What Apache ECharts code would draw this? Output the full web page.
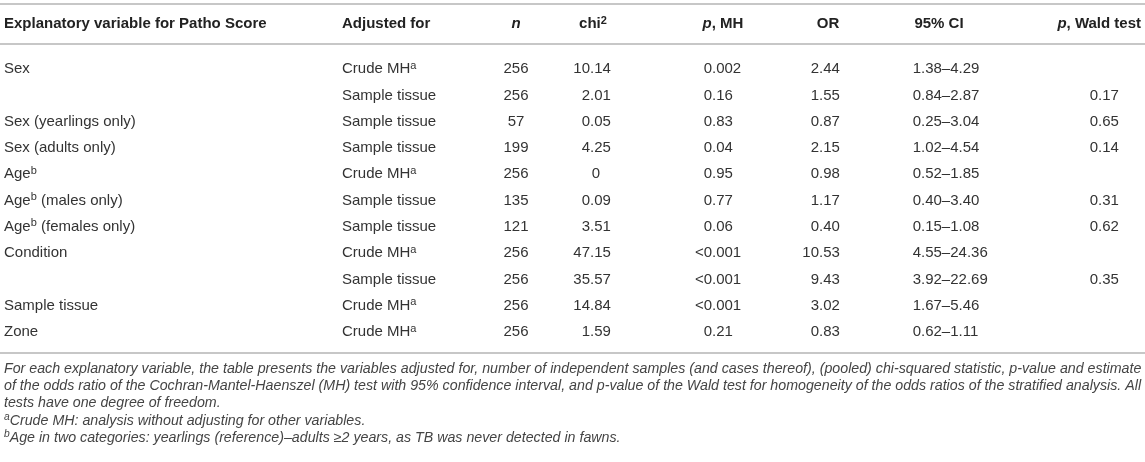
<!DOCTYPE html>
<html lang="en">
  <head>
    <meta charset="UTF-8" />
    <title>Patho Score – Cochran-Mantel-Haenszel tests</title>
    <script src="https://cdn.jsdelivr.net/npm/echarts@6/dist/echarts.min.js"></script>
    <style>
      html,
      body {
        margin: 0;
        padding: 0;
        background: #fff;
      }
      #main {
        width: 1145px;
        height: 462px;
      }
    </style>
  </head>
  <body>
    <div id="main"></div>
    <script>
      // table columns ("^x" marks a superscript)
      const variables = [
        "Sex",
        "",
        "Sex (yearlings only)",
        "Sex (adults only)",
        "Age^b",
        "Age^b (males only)",
        "Age^b (females only)",
        "Condition",
        "",
        "Sample tissue",
        "Zone",
      ];
      const adjustedFor = [
        "Crude MH^a",
        "Sample tissue",
        "Sample tissue",
        "Sample tissue",
        "Crude MH^a",
        "Sample tissue",
        "Sample tissue",
        "Crude MH^a",
        "Sample tissue",
        "Crude MH^a",
        "Crude MH^a",
      ];
      const nValues = [256, 256, 57, 199, 256, 135, 121, 256, 256, 256, 256];
      const chiSquared = ["10.14", "2.01", "0.05", "4.25", "0", "0.09", "3.51", "47.15", "35.57", "14.84", "1.59"];
      const pMH = ["0.002", "0.16", "0.83", "0.04", "0.95", "0.77", "0.06", "<0.001", "<0.001", "<0.001", "0.21"];
      const oddsRatio = ["2.44", "1.55", "0.87", "2.15", "0.98", "1.17", "0.40", "10.53", "9.43", "3.02", "0.83"];
      const ci95 = [
        "1.38–4.29",
        "0.84–2.87",
        "0.25–3.04",
        "1.02–4.54",
        "0.52–1.85",
        "0.40–3.40",
        "0.15–1.08",
        "4.55–24.36",
        "3.92–22.69",
        "1.67–5.46",
        "0.62–1.11",
      ];
      const pWald = ["", "0.17", "0.65", "0.14", "", "0.31", "0.62", "", "0.35", "", ""];

      const headers = [
        "{h|Explanatory variable for Patho Score}",
        "{h|Adjusted for}",
        "{hi|n}",
        "{h|chi}{hs|2}",
        "{hi|p}{h|, MH}",
        "{h|OR}",
        "{h|95% CI}",
        "{hi|p}{h|, Wald test}",
      ];

      const footnotes = [
        "For each explanatory variable, the table presents the variables adjusted for, number of independent samples (and cases thereof), (pooled) chi-squared statistic, p-value and estimate",
        "of the odds ratio of the Cochran-Mantel-Haenszel (MH) test with 95% confidence interval, and p-value of the Wald test for homogeneity of the odds ratios of the stratified analysis. All",
        "tests have one degree of freedom.",
        "^aCrude MH: analysis without adjusting for other variables.",
        "^bAge in two categories: yearlings (reference)–adults ≥2 years, as TB was never detected in fawns.",
      ];

      // layout
      const FONT = "'Liberation Sans', Arial, Helvetica, sans-serif";
      const W = 1145;
      const BODY = "#333";
      const HEAD = "#222";
      const RULE = "#b4b4b4";
      const ROW_TOP = 56;
      const ROW_H = 26.3;
      const ruleY = [4, 44, 353];
      const headerY = 24;
      const headerX = [4, 342, 516, 593, 723, 828, 939, 1141];
      const headerAlign = ["left", "left", "center", "center", "center", "center", "center", "right"];
      const colX = { variable: 4, adjusted: 342, n: 516, chi: 590, pmh: 712, or: 819, ci: 921, wald: 1098 };
      const footY = [369, 386, 403, 421, 438];

      // fit the footnote font so the first line spans the table width
      const ctx = document.createElement("canvas").getContext("2d");
      ctx.font = "italic 13px " + FONT;
      let footSize = (13 * (W - 6)) / ctx.measureText(footnotes[0]).width;
      footSize = Math.max(12, Math.min(15, footSize));

      // "Age^b (males only)" -> rich text tokens
      const toRich = (s, base, sup) =>
        s
          .split(/\^(\w)/)
          .map((part, k) => (part === "" ? "" : `{${k % 2 ? sup : base}|${part}}`))
          .join("");

      const bodyRich = {
        t: { fontSize: 15, fontFamily: FONT, fill: BODY, lineHeight: 18 },
        s: { fontSize: 11, fontFamily: FONT, fill: BODY, lineHeight: 10, verticalAlign: "top" },
      };

      const splitDot = (s) => {
        const k = s.indexOf(".");
        return k < 0 ? [s, ""] : [s.slice(0, k), s.slice(k)];
      };

      const rows = variables.map((_, i) => [0, i]);

      const chartDom = document.getElementById("main");
      const myChart = echarts.init(chartDom);

      const renderItem = (params, api) => {
        const i = api.value(1);
        const y = api.coord([0, i])[1];
        const px = (v) => api.coord([v, i])[0];
        const children = [];
        const text = (str, x, align, rich) => {
          if (!str && str !== 0) return;
          children.push({
            type: "text",
            style: {
              text: rich ? str : String(str),
              rich: rich ? bodyRich : undefined,
              x: x,
              y: y,
              align: align,
              verticalAlign: "middle",
              fontSize: 15,
              fontFamily: FONT,
              fill: BODY,
            },
          });
        };
        // numbers line up on the decimal point; bare integers sit mid-cell
        const decimal = (str, x) => {
          if (!str) return;
          const [a, b] = splitDot(str);
          if (!b) {
            text(a, x + 6, "center");
            return;
          }
          text(a, x, "right");
          text(b, x, "left");
        };

        text(toRich(variables[i], "t", "s"), px(colX.variable), "left", true);
        text(toRich(adjustedFor[i], "t", "s"), px(colX.adjusted), "left", true);
        text(nValues[i], px(colX.n), "center");
        decimal(chiSquared[i], px(colX.chi));
        decimal(pMH[i], px(colX.pmh));
        decimal(oddsRatio[i], px(colX.or));
        decimal(ci95[i], px(colX.ci));
        decimal(pWald[i], px(colX.wald));
        return { type: "group", children: children };
      };

      const headRich = {
        h: { fontSize: 15, fontWeight: "bold", fontFamily: FONT, fill: HEAD, lineHeight: 18 },
        hi: { fontSize: 15, fontWeight: "bold", fontStyle: "italic", fontFamily: FONT, fill: HEAD, lineHeight: 18 },
        hs: { fontSize: 11, fontWeight: "bold", fontFamily: FONT, fill: HEAD, lineHeight: 10, verticalAlign: "top" },
      };
      const footRich = {
        f: { fontSize: footSize, fontStyle: "italic", fontFamily: FONT, fill: "#444", lineHeight: 17 },
        fs: { fontSize: footSize * 0.72, fontStyle: "italic", fontFamily: FONT, fill: "#444", lineHeight: 9, verticalAlign: "top" },
      };

      const graphic = [];
      ruleY.forEach((ry) => {
        graphic.push({
          type: "line",
          shape: { x1: 0, y1: ry, x2: W, y2: ry },
          style: { stroke: RULE, lineWidth: 1.6 },
          silent: true,
        });
      });
      headers.forEach((h, k) => {
        graphic.push({
          type: "text",
          x: headerX[k],
          y: headerY,
          style: { text: h, rich: headRich, align: headerAlign[k], verticalAlign: "middle" },
        });
      });
      footnotes.forEach((f, k) => {
        graphic.push({
          type: "text",
          x: 4,
          y: footY[k],
          style: { text: toRich(f, "f", "fs"), rich: footRich, align: "left", verticalAlign: "middle" },
        });
      });

      const option = {
        animation: false,
        grid: { left: 0, right: 0, top: ROW_TOP, height: ROW_H * variables.length },
        xAxis: { type: "value", min: 0, max: W, show: false },
        yAxis: {
          type: "category",
          inverse: true,
          data: variables.map((_, i) => String(i)),
          show: false,
        },
        graphic: graphic,
        series: [
          {
            type: "custom",
            data: rows,
            encode: { x: 0, y: 1 },
            renderItem: renderItem,
            silent: true,
          },
        ],
      };

      myChart.setOption(option);
    </script>
  </body>
</html>
